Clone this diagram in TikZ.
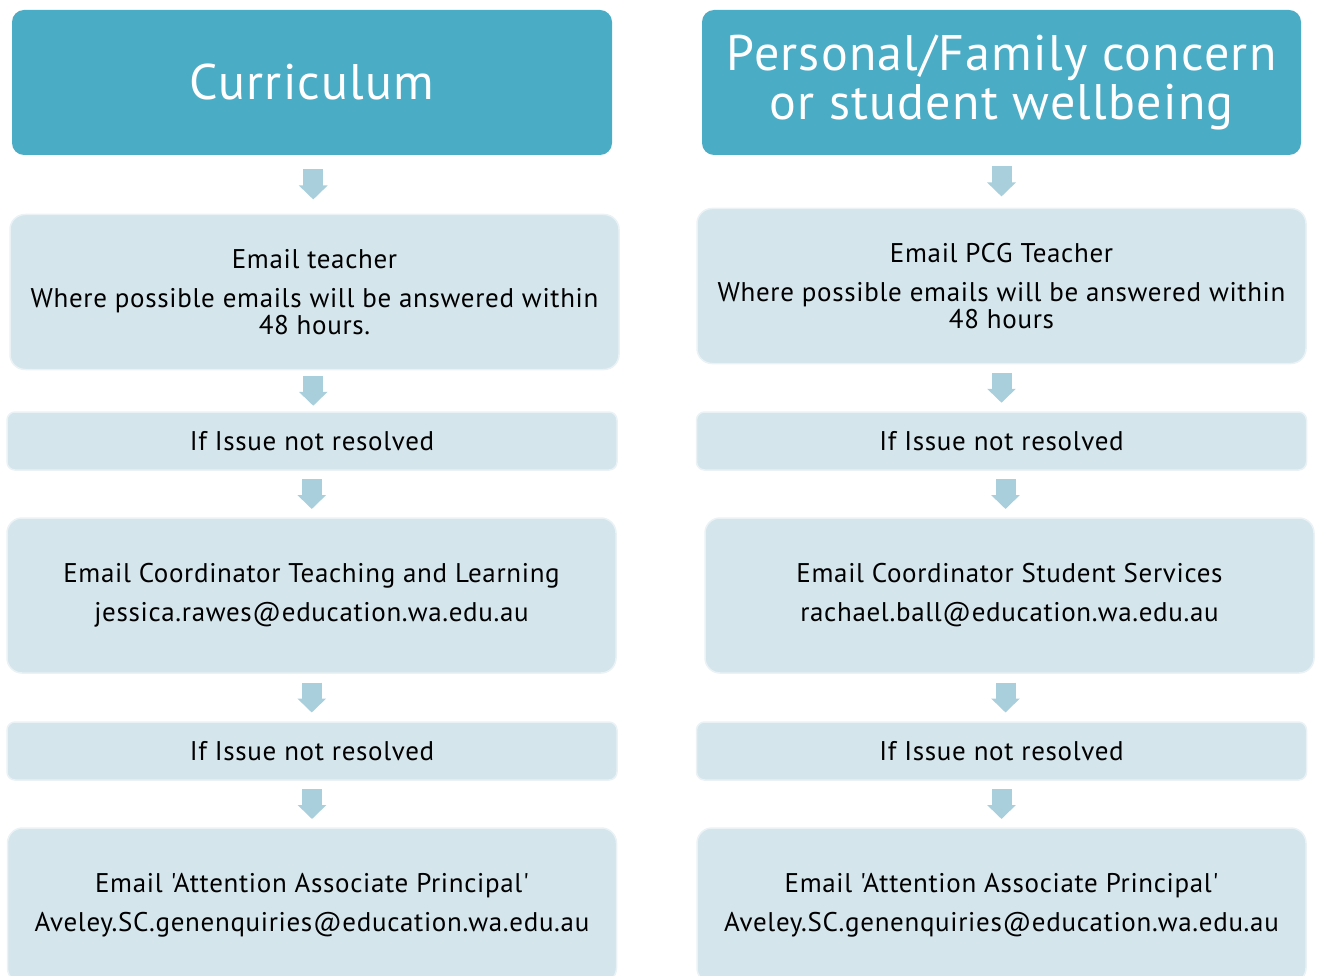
\documentclass[tikz,border=0pt]{standalone}
\usepackage{fontspec}
\setsansfont{PT Sans}[Ligatures = TeXOff, LetterSpace = 2.5]
\usetikzlibrary{arrows.meta}
\definecolor{headTeal}{HTML}{4BACC6}
\definecolor{stepBlue}{HTML}{D4E5EC}
\definecolor{arrowBlue}{HTML}{A9CFDC}

\begin{document}
\begin{tikzpicture}[x = 1pt, y = -1pt, font = \sffamily]
	\tikzstyle{headStyle} = [rounded corners = 12pt, fill = headTeal, text = white, align = center, inner sep = 0pt, font = \sffamily\fontsize{50}{49}\selectfont]
	\tikzstyle{stepStyle} = [rounded corners = 15pt, fill = stepBlue, draw = stepBlue!50!white, line width = 1.5pt, align = center, inner sep = 0pt, font = \sffamily\fontsize{27}{27}\selectfont]
	\tikzstyle{tallStyle} = [stepStyle, minimum width = 609pt, minimum height = 155pt]
	\tikzstyle{flatStyle} = [stepStyle, minimum width = 610pt, minimum height = 58pt, rounded corners = 8pt]
	\tikzstyle{flowStyle} = [draw = arrowBlue, line width = 20pt, -{Triangle[width = 28pt, length = 14pt]}]
	\useasboundingbox (0, 0) rectangle (1319, 976);
	\clip (0, 0) rectangle (1319, 976);
	% left column
	\node[headStyle, minimum width = 600pt, minimum height = 145pt] (cur) at (312, 82.5) {Curriculum};
	\node[tallStyle] (l1) at (314.5, 292) {Email teacher\\[12pt]Where possible emails will be answered within\\48 hours.};
	\node[flatStyle] (l2) at (312, 441) {If Issue not resolved};
	\node[tallStyle] (l3) at (311.5, 595.5) {Email Coordinator Teaching and Learning\\[12pt]jessica.rawes@education.wa.edu.au};
	\node[flatStyle] (l4) at (312, 751) {If Issue not resolved};
	\node[tallStyle] (l5) at (312, 905.5) {Email 'Attention Associate Principal'\\[12pt]Aveley.SC.genenquiries@education.wa.edu.au};
	% right column
	\node[headStyle, minimum width = 599pt, minimum height = 145pt] (pers) at (1001.5, 82.5) {Personal/Family concern\\or student wellbeing};
	\node[tallStyle] (r1) at (1001.5, 286) {Email PCG Teacher\\[12pt]Where possible emails will be answered within\\48 hours};
	\node[flatStyle] (r2) at (1001.5, 441) {If Issue not resolved};
	\node[tallStyle] (r3) at (1009.5, 595.5) {Email Coordinator Student Services\\[12pt]rachael.ball@education.wa.edu.au};
	\node[flatStyle] (r4) at (1001.5, 751) {If Issue not resolved};
	\node[tallStyle] (r5) at (1001.5, 905.5) {Email 'Attention Associate Principal'\\[12pt]Aveley.SC.genenquiries@education.wa.edu.au};
	% arrows
	\path (cur.south) -- coordinate[midway] (la1) (l1.north);
	\path (l1.south) -- coordinate[midway] (la2) (l2.north);
	\path (l2.south) -- coordinate[midway] (la3) (l3.north);
	\path (l3.south) -- coordinate[midway] (la4) (l4.north);
	\path (l4.south) -- coordinate[midway] (la5) (l5.north);
	\path (pers.south) -- coordinate[midway] (ra1) (r1.north);
	\path (r1.south) -- coordinate[midway] (ra2) (r2.north);
	\path (r2.south) -- coordinate[midway] (ra3) (r3.north);
	\path (r3.south) -- coordinate[midway] (ra4) (r4.north);
	\path (r4.south) -- coordinate[midway] (ra5) (r5.north);
	\draw[flowStyle] ([yshift = 15pt]la1) -- ([yshift = -15pt]la1);
	\draw[flowStyle] ([yshift = 15pt]la2) -- ([yshift = -15pt]la2);
	\draw[flowStyle] ([yshift = 15pt]la3) -- ([yshift = -15pt]la3);
	\draw[flowStyle] ([yshift = 15pt]la4) -- ([yshift = -15pt]la4);
	\draw[flowStyle] ([yshift = 15pt]la5) -- ([yshift = -15pt]la5);
	\draw[flowStyle] ([yshift = 15pt]ra1) -- ([yshift = -15pt]ra1);
	\draw[flowStyle] ([yshift = 15pt]ra2) -- ([yshift = -15pt]ra2);
	\draw[flowStyle] ([yshift = 15pt]ra3) -- ([yshift = -15pt]ra3);
	\draw[flowStyle] ([yshift = 15pt]ra4) -- ([yshift = -15pt]ra4);
	\draw[flowStyle] ([yshift = 15pt]ra5) -- ([yshift = -15pt]ra5);
\end{tikzpicture}
\end{document}
